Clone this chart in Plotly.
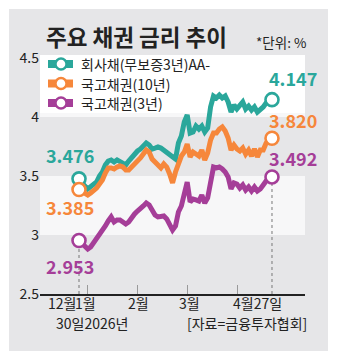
import plotly.graph_objects as go

# ---- data (trading-day index, values in %) ----
days = list(range(67))
corp_aa = [3.476, 3.441, 3.415, 3.390, 3.407, 3.424, 3.449, 3.500, 3.534, 3.593,
           3.627, 3.636, 3.619, 3.636, 3.619, 3.610, 3.593, 3.627, 3.661, 3.695,
           3.712, 3.729, 3.763, 3.780, 3.763, 3.729, 3.737, 3.746, 3.737, 3.720,
           3.703, 3.678, 3.661, 3.644, 3.780, 3.839, 3.958, 4.017, 3.864, 3.873,
           3.924, 3.898, 3.924, 3.873, 3.907, 4.085, 4.178, 4.161, 4.186, 4.161,
           4.178, 4.127, 4.042, 4.102, 4.068, 4.093, 4.127, 4.068, 4.093, 4.059,
           4.085, 4.042, 4.059, 4.085, 4.119, 4.136, 4.147]
ktb10 = [3.385, 3.373, 3.356, 3.339, 3.356, 3.373, 3.398, 3.432, 3.466, 3.525,
         3.568, 3.568, 3.559, 3.576, 3.585, 3.576, 3.551, 3.551, 3.576, 3.602,
         3.619, 3.653, 3.686, 3.720, 3.703, 3.644, 3.619, 3.585, 3.568, 3.602,
         3.576, 3.517, 3.441, 3.534, 3.619, 3.669, 3.703, 3.771, 3.661, 3.703,
         3.686, 3.669, 3.720, 3.636, 3.695, 3.805, 3.864, 3.864, 3.898, 3.915,
         3.881, 3.822, 3.720, 3.763, 3.729, 3.712, 3.737, 3.686, 3.720, 3.669,
         3.729, 3.661, 3.720, 3.720, 3.780, 3.797, 3.820]
ktb3 = [2.953, 2.932, 2.907, 2.881, 2.898, 2.932, 2.958, 2.992, 3.042, 3.076,
        3.119, 3.153, 3.110, 3.127, 3.127, 3.110, 3.093, 3.110, 3.153, 3.178,
        3.203, 3.220, 3.246, 3.271, 3.254, 3.212, 3.169, 3.153, 3.161, 3.161,
        3.136, 3.093, 3.042, 3.076, 3.195, 3.246, 3.331, 3.449, 3.280, 3.305,
        3.297, 3.288, 3.339, 3.271, 3.314, 3.466, 3.576, 3.568, 3.576, 3.559,
        3.534, 3.492, 3.390, 3.441, 3.432, 3.398, 3.424, 3.381, 3.407, 3.373,
        3.407, 3.373, 3.390, 3.424, 3.458, 3.466, 3.492]

series_names = ["회사채(무보증3년)AA-", "국고채권(10년)", "국고채권(3년)"]
series_values = [corp_aa, ktb10, ktb3]
colors = ["#2aa79b", "#f6873b", "#a53e98"]

y_ticks = [2.5, 3, 3.5, 4, 4.5]
y_tick_text = ["2.5", "3", "3.5", "4", "4.5"]
month_ticks = [2.74, 19.84, 36.94, 54.04]

FONT = "Noto Sans CJK KR"
W, H = 341, 361
ML, MR, MT, MB = 40, 36, 58, 67
PW, PH = W - ML - MR, H - MT - MB


def px(xp):
    return (xp - ML) / PW


def py(yp):
    return (H - MB - yp) / PH


fig = go.Figure()

for name, vals, col in zip(series_names, series_values, colors):
    fig.add_trace(go.Scatter(x=days, y=vals, mode="lines", name=name,
                             line=dict(color=col, width=5), hoverinfo="skip"))

for vals, col in zip(series_values, colors):
    fig.add_trace(go.Scatter(x=[days[0], days[-1]], y=[vals[0], vals[-1]], mode="markers",
                             marker=dict(size=13, color="white", line=dict(color=col, width=2.6)),
                             hoverinfo="skip"))

shapes = []
# gray panel
shapes.append(dict(type="rect", xref="paper", yref="paper", x0=px(9), x1=px(328),
                   y0=py(351), y1=py(9), fillcolor="#e6e6e8", line=dict(width=0), layer="below"))
# light bands
for lo, hi in [(3.0, 3.5), (4.0, 4.5)]:
    shapes.append(dict(type="rect", xref="paper", yref="y", x0=0, x1=1, y0=lo, y1=hi,
                       fillcolor="#f7f7f8", line=dict(width=0), layer="below"))
# legend box
shapes.append(dict(type="rect", xref="paper", yref="paper", x0=0, x1=1, y0=py(113), y1=py(55),
                   fillcolor="#ffffff", line=dict(width=0), layer="below"))
# dotted guides
for d, v in [(days[0], ktb3[0]), (days[-1], ktb3[-1])]:
    shapes.append(dict(type="line", xref="x", yref="y", x0=d, x1=d, y0=2.5, y1=v,
                       line=dict(color="#777777", width=1, dash="dot"), layer="below"))

annotations = []
# legend symbols + text
leg_y = [64, 83.5, 103]
for name, col, yy in zip(series_names, colors, leg_y):
    shapes.append(dict(type="rect", xref="paper", yref="paper", xsizemode="pixel", ysizemode="pixel",
                       xanchor=px(61), yanchor=py(yy), x0=-13, x1=12, y0=-4, y1=4,
                       fillcolor=col, line=dict(width=0)))
    shapes.append(dict(type="circle", xref="paper", yref="paper", xsizemode="pixel", ysizemode="pixel",
                       xanchor=px(61), yanchor=py(yy), x0=-5.5, x1=5.5, y0=-5.5, y1=5.5,
                       fillcolor="white", line=dict(color=col, width=2.4)))
    annotations.append(dict(text=name, xref="paper", yref="paper", x=px(79), y=py(yy),
                            xanchor="left", yanchor="middle", showarrow=False,
                            font=dict(family=FONT, size=14, color="#222222")))

# value labels
lab = [
    (days[0], corp_aa[0], colors[0], -9, 24),
    (days[0], ktb10[0], colors[1], -9, -17),
    (days[0], ktb3[0], colors[2], -9, -25),
    (days[-1], corp_aa[-1], colors[0], 21, 22),
    (days[-1], ktb10[-1], colors[1], 21, 18),
    (days[-1], ktb3[-1], colors[2], 21, 19),
]
for d, v, col, xs, ys in lab:
    annotations.append(dict(text=f"{v:.3f}", x=d, y=v, xref="x", yref="y", showarrow=False,
                            xshift=xs, yshift=ys, xanchor="center", yanchor="middle",
                            font=dict(family=FONT, size=18, color=col, weight="bold")))

# title
annotations.append(dict(text="주요 채권 금리 추이", xref="paper", yref="paper", x=px(44), y=py(36),
                        xanchor="left", yanchor="middle", showarrow=False,
                        font=dict(family=FONT, size=22.5, color="#222222", weight="bold")))
annotations.append(dict(text="*단위: %", xref="paper", yref="paper", x=px(254), y=py(42),
                        xanchor="left", yanchor="middle", showarrow=False,
                        font=dict(family=FONT, size=13.5, color="#222222")))

# x labels
xlabels = [("12월", 62, 303), ("1월", 85, 303), ("2월", 138, 303), ("3월", 189, 303),
           ("4월27일", 257, 303), ("30일2026년", 92, 323), ("[자료=금융투자협회]", 247, 323)]
for t, xp, yp in xlabels:
    annotations.append(dict(text=t, xref="paper", yref="paper", x=px(xp), y=py(yp),
                            xanchor="center", yanchor="middle", showarrow=False,
                            font=dict(family=FONT, size=14, color="#222222")))

fig.update_layout(
    width=W, height=H,
    margin=dict(l=ML, r=MR, t=MT, b=MB),
    paper_bgcolor="white", plot_bgcolor="rgba(0,0,0,0)",
    showlegend=False,
    shapes=shapes, annotations=annotations,
    xaxis=dict(range=[-13.34, 77.29], showgrid=False, zeroline=False,
               showline=True, linecolor="#222222", linewidth=2,
               tickvals=month_ticks, ticks="inside", ticklen=9, tickwidth=1,
               tickcolor="#999999", showticklabels=False, fixedrange=True),
    yaxis=dict(range=[2.5, 4.5], showgrid=False, zeroline=False, showline=False,
               tickvals=y_ticks, ticktext=y_tick_text, ticks="",
               tickfont=dict(family=FONT, size=14, color="#222222"), fixedrange=True),
)

fig.write_html("out.html")
